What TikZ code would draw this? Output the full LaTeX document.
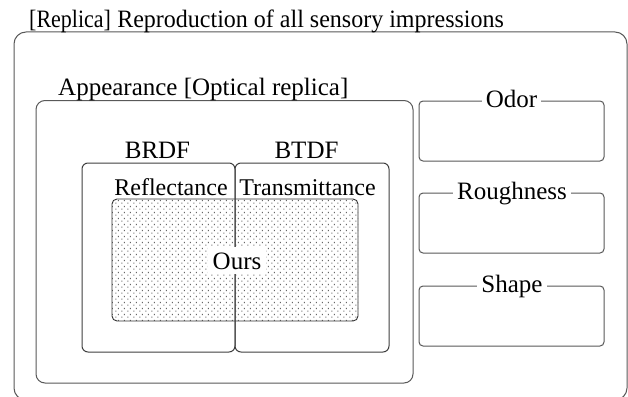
\documentclass[tikz,border=0pt]{standalone}
\usepackage{fontspec}
\setmainfont{Liberation Serif}
\usetikzlibrary{patterns.meta}

% staggered grid of small dots for the shaded region
\tikzdeclarepattern{
  name=stagdots,
  type=uncolored,
  bounding box={(0pt,0pt) and (6pt,6pt)},
  tile size={(6pt,6pt)},
  code={
    \fill (1.5pt,1.5pt) rectangle ++(1.3pt,1.3pt);
    \fill (4.5pt,4.5pt) rectangle ++(1.3pt,1.3pt);
  }
}

\tikzset{
  frame/.style={draw=black!65, line width=1pt, rectangle, inner sep=0pt,
    minimum width=#1},
  lbl/.style={font=\fontsize{25}{30}\selectfont, inner sep=0pt},
  tag/.style={font=\fontsize{25}{30}\selectfont, fill=white, inner sep=4pt},
}

\begin{document}
\begin{tikzpicture}[x=1pt,y=-1pt]
  \useasboundingbox (0,0) rectangle (628,396);
  \clip (0,0) rectangle (628,396);
  \fill[white] (0,0) rectangle (628,396);

  % outermost frame: all sensory impressions
  \node (all) [frame=613pt, minimum height=368pt, rounded corners=12pt] at (320.5,216) {};
  \node (title) [lbl, anchor=base west] at (29,28)
    {\scalebox{0.88}[1]{[Replica]} \scalebox{0.96}[1]{Reproduction of all sensory impressions}};

  % appearance frame
  \node (app) [frame=377pt, minimum height=282.5pt, rounded corners=9pt] at (224.5,241.75) {};
  \node (apptitle) [lbl, anchor=base west] at (58,95) {Appearance [Optical replica]};

  % shaded region covered by our method
  \node (ours) [rectangle, minimum width=246pt, minimum height=122pt, inner sep=0pt,
    pattern={stagdots}, pattern color=black!60, draw=black!80, line width=0.9pt,
    rounded corners=5pt] at (235,260) {};

  % reflectance / transmittance frames
  \node (brdf) [frame=153pt, minimum height=189pt, rounded corners=6pt, draw=black!75] at (158.5,257.5) {};
  \node (btdf) [frame=154pt, minimum height=189pt, rounded corners=6pt, draw=black!75] at (312,257.5) {};
  \node (brdflbl) [lbl, anchor=base] at (157.5,158) {BRDF};
  \node (btdflbl) [lbl, anchor=base] at (306.5,158) {BTDF};
  \node (refl) [lbl, anchor=base, font=\fontsize{24}{29}\selectfont] at (171,195) {Reflectance};
  \node (trans) [lbl, anchor=base, font=\fontsize{24}{29}\selectfont] at (307.5,195) {Transmittance};
  \node (ourslbl) [tag, anchor=base, inner sep=5pt] at (237,269) {Ours};

  % other sensory attributes
  \node (odor) [frame=185pt, minimum height=60pt, rounded corners=4pt] at (511.5,131) {};
  \node (rough) [frame=185pt, minimum height=60pt, rounded corners=4pt] at (511.5,223) {};
  \node (shape) [frame=185pt, minimum height=60pt, rounded corners=4pt] at (511.5,316) {};
  \node (odorlbl) [tag, anchor=base] at (511.5,107) {Odor};
  \node (roughlbl) [tag, anchor=base] at (512,199) {Roughness};
  \node (shapelbl) [tag, anchor=base] at (512,292) {Shape};
\end{tikzpicture}
\end{document}
